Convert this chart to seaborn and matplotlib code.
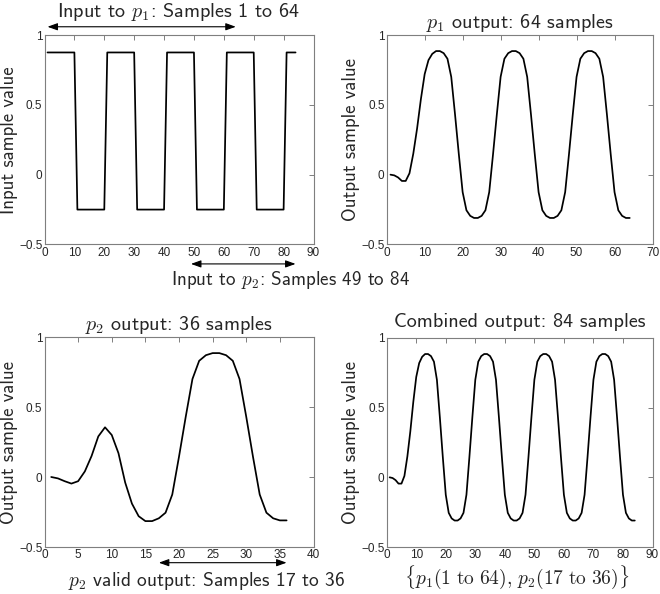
import matplotlib
matplotlib.use("Agg")
import matplotlib.pyplot as plt
import pandas as pd
import seaborn as sns

# ---------------- data ----------------
input_values = [
    0.875, 0.875, 0.875, 0.875, 0.875, 0.875, 0.875, 0.875, 0.875, 0.875,
    -0.25, -0.25, -0.25, -0.25, -0.25, -0.25, -0.25, -0.25, -0.25, -0.25,
    0.875, 0.875, 0.875, 0.875, 0.875, 0.875, 0.875, 0.875, 0.875, 0.875,
    -0.25, -0.25, -0.25, -0.25, -0.25, -0.25, -0.25, -0.25, -0.25, -0.25,
    0.875, 0.875, 0.875, 0.875, 0.875, 0.875, 0.875, 0.875, 0.875, 0.875,
    -0.25, -0.25, -0.25, -0.25, -0.25, -0.25, -0.25, -0.25, -0.25, -0.25,
    0.875, 0.875, 0.875, 0.875, 0.875, 0.875, 0.875, 0.875, 0.875, 0.875,
    -0.25, -0.25, -0.25, -0.25, -0.25, -0.25, -0.25, -0.25, -0.25, -0.25,
    0.875, 0.875, 0.875, 0.875,
]

p1_output = [
    0.0, -0.005, -0.02, -0.045, -0.045, 0.01, 0.15, 0.33, 0.54, 0.72,
    0.82, 0.865, 0.885, 0.885, 0.87, 0.83, 0.70, 0.43, 0.145, -0.125,
    -0.255, -0.295, -0.31, -0.31, -0.295, -0.255, -0.125, 0.145, 0.43, 0.70,
    0.83, 0.87, 0.885, 0.885, 0.87, 0.83, 0.70, 0.43, 0.145, -0.125,
    -0.255, -0.295, -0.31, -0.31, -0.295, -0.255, -0.125, 0.145, 0.43, 0.70,
    0.83, 0.87, 0.885, 0.885, 0.87, 0.83, 0.70, 0.43, 0.145, -0.125,
    -0.255, -0.295, -0.31, -0.31,
]

p2_output = [
    0.0, -0.01, -0.03, -0.047, -0.03, 0.04, 0.15, 0.29, 0.355, 0.30,
    0.17, -0.04, -0.19, -0.28, -0.315, -0.315, -0.295, -0.255, -0.125, 0.145,
    0.43, 0.70, 0.83, 0.87, 0.885, 0.885, 0.87, 0.83, 0.70, 0.43,
    0.145, -0.125, -0.255, -0.295, -0.31, -0.31,
]

p2_valid_start = 17  # p2 samples 17..36 are valid
combined_output = p1_output + p2_output[p2_valid_start - 1:]

y_ticks = [-0.5, 0, 0.5, 1]
y_tick_labels = ["\u22120.5", "0", "0.5", "1"]
xticks_tl = [0, 10, 20, 30, 40, 50, 60, 70, 80, 90]
xticks_tr = [0, 10, 20, 30, 40, 50, 60, 70]
xticks_bl = [0, 5, 10, 15, 20, 25, 30, 35, 40]
xticks_br = [0, 10, 20, 30, 40, 50, 60, 70, 80, 90]

# ---------------- style ----------------
sns.set_theme(style="white")
plt.rcParams["mathtext.fontset"] = "cm"
plt.rcParams["font.family"] = ["cmss10", "DejaVu Sans"]
plt.rcParams["axes.unicode_minus"] = False

W, H = 660, 594
fig = plt.figure(figsize=(W / 100, H / 100), dpi=100)


def box(l, t, r, b):
    return [l / W, 1 - b / H, (r - l) / W, (b - t) / H]


TITLE_FS = 14.5
YLABEL_FS = 13.5
NOTE_FS = 14
TICK_FS = 8.5
SPINE = "#7f7f7f"


def make_axes(rect, x, y, xlim, xticks, ylabel):
    ax = fig.add_axes(rect)
    df = pd.DataFrame({"sample": x, "value": y})
    sns.lineplot(data=df, x="sample", y="value", ax=ax, color="black",
                 linewidth=1.25)
    ax.set_xlim(*xlim)
    ax.set_ylim(-0.5, 1)
    ax.set_xticks(xticks)
    ax.set_xticklabels([str(v) for v in xticks],
                       fontfamily="Liberation Sans", fontsize=TICK_FS)
    ax.set_yticks(y_ticks)
    ax.set_yticklabels(y_tick_labels, fontfamily="Liberation Sans",
                       fontsize=TICK_FS)
    ax.tick_params(direction="in", length=3.5, width=0.7, color=SPINE,
                   top=True, right=True, pad=1.5)
    for s in ax.spines.values():
        s.set_color(SPINE)
        s.set_linewidth(0.8)
        s.set_visible(True)
    ax.set_xlabel("")
    ax.set_ylabel(ylabel, fontsize=YLABEL_FS, labelpad=1)
    return ax


def arrow(ax, x0, x1, y):
    ax.annotate("", xy=(x1, y), xytext=(x0, y), xycoords="data",
                annotation_clip=False,
                arrowprops=dict(arrowstyle="<|-|>,head_length=0.5,head_width=0.18",
                                color="black", lw=0.8, shrinkA=0, shrinkB=0))


# top-left: input square wave
ax1 = make_axes(box(44.5, 35, 313.5, 244.5), list(range(1, len(input_values) + 1)),
                input_values, (0, 90), xticks_tl, "Input sample value")
ax1.set_title("Input to $p_1$: Samples 1 to 64", fontsize=TITLE_FS, pad=13)
arrow(ax1, 1, 64, 1.059)
arrow(ax1, 49, 84, -0.639)
fig.text(291 / W, 1 - 280 / H, "Input to $p_2$: Samples 49 to 84",
         ha="center", va="center", fontsize=NOTE_FS - 0.3)

# top-right: p1 output
ax2 = make_axes(box(386.7, 35, 652.5, 244.5), list(range(1, len(p1_output) + 1)),
                p1_output, (0, 70), xticks_tr, "Output sample value")
ax2.set_title("$p_1$ output: 64 samples", fontsize=TITLE_FS, pad=5)

# bottom-left: p2 output
ax3 = make_axes(box(44.5, 337, 313.5, 547), list(range(1, len(p2_output) + 1)),
                p2_output, (0, 40), xticks_bl, "Output sample value")
ax3.set_title("$p_2$ output: 36 samples", fontsize=TITLE_FS, pad=5)
arrow(ax3, 17, 36, -0.612)
fig.text(207 / W, 1 - 581 / H, "$p_2$ valid output: Samples 17 to 36",
         ha="center", va="center", fontsize=NOTE_FS)

# bottom-right: combined output
ax4 = make_axes(box(386.7, 338, 652.5, 547),
                list(range(1, len(combined_output) + 1)),
                combined_output, (0, 90), xticks_br, "Output sample value")
ax4.set_title("Combined output: 84 samples", fontsize=TITLE_FS, pad=8)
fig.text(517 / W, 1 - 577 / H,
         r"$\{p_1(1\ \mathrm{to}\ 64),\, p_2(17\ \mathrm{to}\ 36)\}$",
         ha="center", va="center", fontsize=NOTE_FS)

fig.savefig("out.png", dpi=100)
